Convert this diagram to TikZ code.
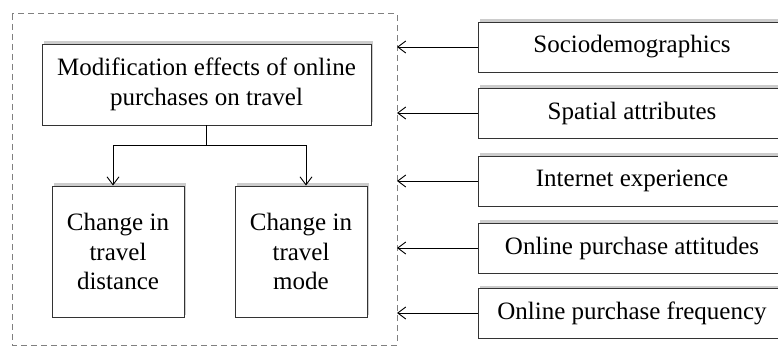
\documentclass[tikz,border=0pt]{standalone}
\usepackage{fontspec}
\setmainfont{Liberation Serif}
\usetikzlibrary{shadows,arrows.meta}

\begin{document}
\begin{tikzpicture}[x=1pt,y=-1pt,
    box/.style={draw=black!80, fill=white, line width=0.9pt, align=center,
        inner sep=0pt, font=\fontsize{25}{29.5}\selectfont,
        drop shadow={shadow xshift=1.5pt, shadow yshift=2.5pt, opacity=0.4}},
    factor/.style={box, minimum width=308pt, minimum height=50pt},
    arr/.style={-{Straight Barb[length=8pt,width=12pt]}, line width=0.9pt}]
    \useasboundingbox (0,0) rectangle (778,347);

    % dashed frame round the effects
    \draw[gray, line width=1pt, dash pattern=on 6pt off 4pt]
        (12,14) rectangle (397,345);
    \coordinate (edge) at (397,0);

    \node[box, minimum width=329pt, minimum height=81pt] (effects) at (206.5,84.5)
        {Modification effects of online\\purchases on travel};
    \node[box, minimum width=132pt, minimum height=131pt] (dist) at (118,251.5)
        {Change in\\travel\\distance};
    \node[box, minimum width=132pt, minimum height=131pt] (mode) at (301,251.5)
        {Change in\\travel\\mode};

    \draw[line width=0.9pt] (effects.south) -- ++(0,20) coordinate (split);
    \draw[arr] (split) -| ([xshift=-5pt]dist.north);
    \draw[arr] (split) -| ([xshift=5pt]mode.north);

    % explanatory factors
    \node[factor] (socio) at (632,47) {Sociodemographics};
    \node[factor] (spatial) at (632,113) {Spatial attributes};
    \node[factor] (inet) at (632,181) {Internet experience};
    \node[factor] (attit) at (632,248) {Online purchase attitudes};
    \node[factor] (freq) at (632,313) {Online purchase frequency};

    \foreach \f in {socio,spatial,inet,attit,freq}
        \draw[arr] (\f.west) -- (\f.west -| edge);
\end{tikzpicture}
\end{document}
